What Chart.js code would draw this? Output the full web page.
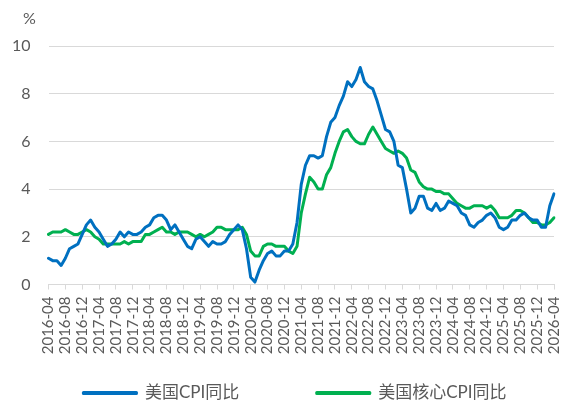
<!DOCTYPE html>
<html><head><meta charset="utf-8">
<script src="https://cdn.jsdelivr.net/npm/chart.js@4/dist/chart.umd.min.js"></script>
<style>html,body{margin:0;padding:0;background:#fff;}</style>
</head><body>
<canvas id="c" width="562" height="403"></canvas>
<script>
const categories = [
  '2016-04','2016-05','2016-06','2016-07','2016-08','2016-09','2016-10','2016-11','2016-12',
  '2017-01','2017-02','2017-03','2017-04','2017-05','2017-06','2017-07','2017-08','2017-09','2017-10','2017-11','2017-12',
  '2018-01','2018-02','2018-03','2018-04','2018-05','2018-06','2018-07','2018-08','2018-09','2018-10','2018-11','2018-12',
  '2019-01','2019-02','2019-03','2019-04','2019-05','2019-06','2019-07','2019-08','2019-09','2019-10','2019-11','2019-12',
  '2020-01','2020-02','2020-03','2020-04','2020-05','2020-06','2020-07','2020-08','2020-09','2020-10','2020-11','2020-12',
  '2021-01','2021-02','2021-03','2021-04','2021-05','2021-06','2021-07','2021-08','2021-09','2021-10','2021-11','2021-12',
  '2022-01','2022-02','2022-03','2022-04','2022-05','2022-06','2022-07','2022-08','2022-09','2022-10','2022-11','2022-12',
  '2023-01','2023-02','2023-03','2023-04','2023-05','2023-06','2023-07','2023-08','2023-09','2023-10','2023-11','2023-12',
  '2024-01','2024-02','2024-03','2024-04','2024-05','2024-06','2024-07','2024-08','2024-09','2024-10','2024-11','2024-12',
  '2025-01','2025-02','2025-03','2025-04','2025-05','2025-06','2025-07','2025-08','2025-09','2025-10','2025-11','2025-12',
  '2026-01','2026-02','2026-03','2026-04'
];
const cpi = [
  1.1,1.0,1.0,0.8,1.1,1.5,1.6,1.7,2.1,
  2.5,2.7,2.4,2.2,1.9,1.6,1.7,1.9,2.2,2.0,2.2,2.1,
  2.1,2.2,2.4,2.5,2.8,2.9,2.9,2.7,2.3,2.5,2.2,1.9,
  1.6,1.5,1.9,2.0,1.8,1.6,1.8,1.7,1.7,1.8,2.1,2.3,
  2.5,2.3,1.5,0.3,0.1,0.6,1.0,1.3,1.4,1.2,1.2,1.4,
  1.4,1.7,2.6,4.2,5.0,5.4,5.4,5.3,5.4,6.2,6.8,7.0,
  7.5,7.9,8.5,8.3,8.6,9.1,8.5,8.3,8.2,7.7,7.1,6.5,
  6.4,6.0,5.0,4.9,4.0,3.0,3.2,3.7,3.7,3.2,3.1,3.4,
  3.1,3.2,3.5,3.4,3.3,3.0,2.9,2.5,2.4,2.6,2.7,2.9,
  3.0,2.8,2.4,2.3,2.4,2.7,2.7,2.9,3.0,2.8,2.7,2.7,
  2.4,2.4,3.3,3.8
];
const coreCpi = [
  2.1,2.2,2.2,2.2,2.3,2.2,2.1,2.1,2.2,
  2.3,2.2,2.0,1.9,1.7,1.7,1.7,1.7,1.7,1.8,1.7,1.8,
  1.8,1.8,2.1,2.1,2.2,2.3,2.4,2.2,2.2,2.1,2.2,2.2,
  2.2,2.1,2.0,2.1,2.0,2.1,2.2,2.4,2.4,2.3,2.3,2.3,
  2.3,2.4,2.1,1.4,1.2,1.2,1.6,1.7,1.7,1.6,1.6,1.6,
  1.4,1.3,1.6,3.0,3.8,4.5,4.3,4.0,4.0,4.6,4.9,5.5,
  6.0,6.4,6.5,6.2,6.0,5.9,5.9,6.3,6.6,6.3,6.0,5.7,
  5.6,5.5,5.6,5.5,5.3,4.8,4.7,4.3,4.1,4.0,4.0,3.9,
  3.9,3.8,3.8,3.6,3.4,3.3,3.2,3.2,3.3,3.3,3.3,3.2,
  3.3,3.1,2.8,2.8,2.8,2.9,3.1,3.1,3.0,2.8,2.6,2.6,
  2.5,2.5,2.6,2.8
];
const tickLabels = [
  '2016-04','2016-08','2016-12','2017-04','2017-08','2017-12','2018-04','2018-08','2018-12',
  '2019-04','2019-08','2019-12','2020-04','2020-08','2020-12','2021-04','2021-08','2021-12',
  '2022-04','2022-08','2022-12','2023-04','2023-08','2023-12','2024-04','2024-08','2024-12',
  '2025-04','2025-08','2025-12','2026-04'
];
const seriesNames = ['美国CPI同比', '美国核心CPI同比'];
const unitLabel = '%';

const TXT = '#595959', GRID = '#d9d9d9';

const unitPlugin = {
  id: 'unitLabel',
  afterDraw(chart) {
    const {ctx, chartArea} = chart;
    ctx.save();
    ctx.font = '16px Lato';
    ctx.fillStyle = TXT;
    ctx.textAlign = 'center';
    ctx.textBaseline = 'middle';
    ctx.fillText(unitLabel, chartArea.left - 19, chartArea.top - 27);
    ctx.restore();
  }
};

new Chart(document.getElementById('c'), {
  type: 'line',
  data: {
    labels: categories,
    datasets: [
      {label: seriesNames[0], data: cpi, borderColor: '#0070C0', backgroundColor: '#0070C0',
       borderWidth: 3, pointRadius: 0, tension: 0, borderJoinStyle: 'round', borderCapStyle: 'round'},
      {label: seriesNames[1], data: coreCpi, borderColor: '#00B050', backgroundColor: '#00B050',
       borderWidth: 3, pointRadius: 0, tension: 0, borderJoinStyle: 'round', borderCapStyle: 'round'}
    ]
  },
  options: {
    responsive: false, animation: false, devicePixelRatio: 1,
    layout: {padding: {left: 12.5, right: -15.5, top: 46, bottom: -8.5}},
    plugins: {
      legend: {
        position: 'bottom',
        labels: {
          boxWidth: 53, boxHeight: 1, padding: 8, color: TXT,
          font: {family: "Lato, 'Noto Sans CJK SC'", size: 17},
          generateLabels(chart) {
            const items = Chart.defaults.plugins.legend.labels.generateLabels(chart);
            // empty spacer between the two entries (wider gap as in the original)
            items.splice(1, 0, {text: '', fillStyle: 'rgba(0,0,0,0)', strokeStyle: 'rgba(0,0,0,0)',
                                lineWidth: 0, hidden: false, datasetIndex: -1});
            return items;
          }
        }
      },
      tooltip: {enabled: false}
    },
    scales: {
      x: {
        offset: false,
        grid: {drawOnChartArea: false, drawTicks: true, tickLength: 5, color: GRID},
        border: {color: GRID, width: 1},
        ticks: {autoSkip: false, minRotation: 90, maxRotation: 90, padding: 7, color: TXT,
                font: {family: 'Lato', size: 15}},
        afterBuildTicks(s) { s.ticks = s.ticks.filter(t => tickLabels.includes(categories[t.value])); },
        afterFit(s) { s.height = 92; s.paddingLeft = 0; s.paddingRight = 8; }
      },
      y: {
        min: 0, max: 10,
        ticks: {stepSize: 2, padding: 18, color: TXT, font: {family: 'Lato', size: 16}},
        grid: {color: GRID, drawTicks: false},
        border: {display: false},
        afterFit(s) { s.width = 36; }
      }
    }
  },
  plugins: [unitPlugin]
});
</script>
</body></html>
